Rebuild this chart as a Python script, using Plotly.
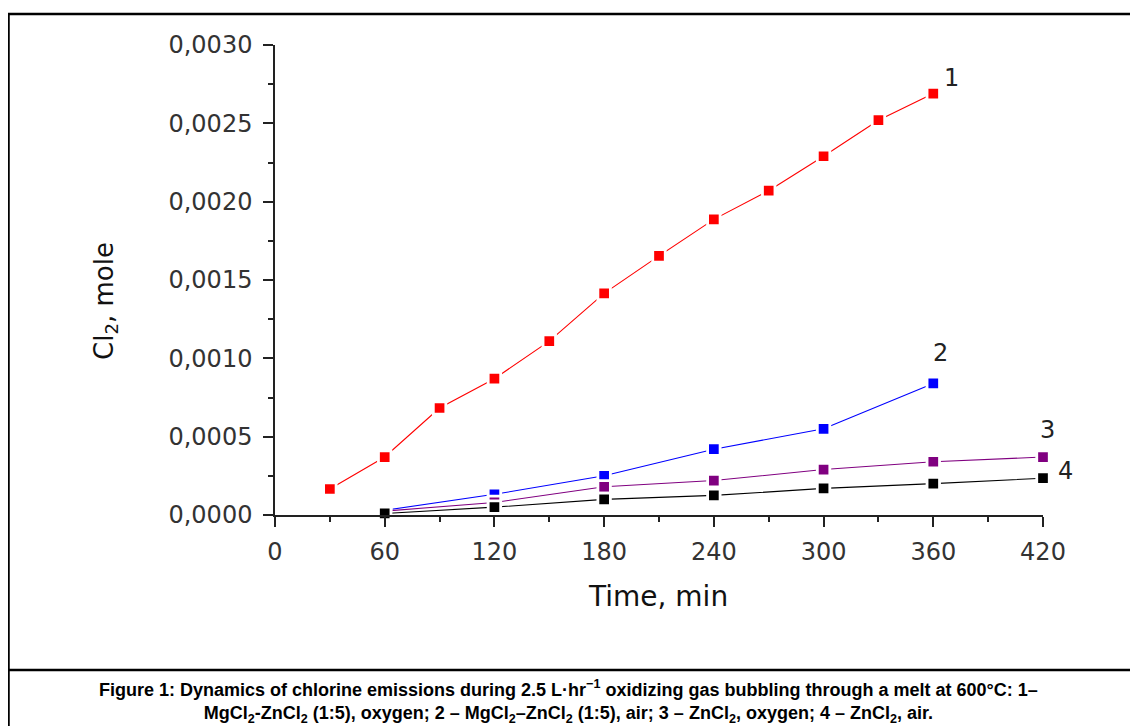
import plotly.graph_objects as go

# ---- data ----
time_1 = [30, 60, 90, 120, 150, 180, 210, 240, 270, 300, 330, 360]
cl2_1 = [0.000166, 0.00037, 0.000683, 0.00087, 0.00111, 0.001415, 0.001654, 0.001887, 0.00207, 0.00229, 0.00252, 0.00269]

time_2 = [60, 120, 180, 240, 300, 360]
cl2_2 = [0.00003, 0.000132, 0.00025, 0.00042, 0.00055, 0.00084]

time_3 = [60, 120, 180, 240, 300, 360, 420]
cl2_3 = [0.000025, 0.00008, 0.00018, 0.00022, 0.00029, 0.00034, 0.00037]

time_4 = [60, 120, 180, 240, 300, 360, 420]
cl2_4 = [0.00001, 0.00005, 0.0001, 0.000125, 0.00017, 0.0002, 0.000235]

series_labels = ["1", "2", "3", "4"]
series_colors = ["#ff0000", "#0000ff", "#800080", "#000000"]

x_ticks = [0, 60, 120, 180, 240, 300, 360, 420]
y_ticks = [0, 0.0005, 0.001, 0.0015, 0.002, 0.0025, 0.003]

caption = ("<b>Figure 1: Dynamics of chlorine emissions during 2.5 L·hr<sup>−1</sup> oxidizing gas bubbling "
           "through a melt at 600°C: 1–<br>MgCl<sub>2</sub>-ZnCl<sub>2</sub> (1:5), oxygen; "
           "2 – MgCl<sub>2</sub>–ZnCl<sub>2</sub> (1:5), air; 3 – ZnCl<sub>2</sub>, oxygen; "
           "4 – ZnCl<sub>2</sub>, air.</b>")

# ---- layout geometry (page pixels; the page body adds an 8px offset) ----
OFF = 8
W, H = 1138 - OFF, 726 - OFF
L, R, T, B = 275, 1043, 45, 515   # plot area in page pixels

def px(x):
    return (x - L) / (R - L)

def py(y):
    return (B - y) / (B - T)

fig = go.Figure()
all_series = [(time_1, cl2_1), (time_2, cl2_2), (time_3, cl2_3), (time_4, cl2_4)]
for (xs, ys), col in zip(all_series, series_colors):
    fig.add_trace(go.Scatter(
        x=xs, y=ys, mode="lines+markers",
        line=dict(color=col, width=1.1),
        marker=dict(symbol="square", size=12.5, color=col, line=dict(color="white", width=2.8)),
        cliponaxis=False, showlegend=False,
    ))

# curve number labels placed next to each series' last point
label_offsets = [(18, 16), (7, 30), (4, 27), (22, 7)]
annotations = []
for (xs, ys), lab, (dx, dy) in zip(all_series, series_labels, label_offsets):
    annotations.append(dict(x=xs[-1], y=ys[-1], xref="x", yref="y", text=lab, showarrow=False,
                            xanchor="center", yanchor="middle", xshift=dx, yshift=dy,
                            font=dict(family="DejaVu Sans", size=24, color="#222")))

annotations.append(dict(x=px(658), y=py(596), xref="paper", yref="paper", text="Time, min",
                        xanchor="center", yanchor="middle", showarrow=False,
                        font=dict(family="DejaVu Sans", size=28, color="#111")))
annotations.append(dict(x=px(105), y=py(301), xref="paper", yref="paper", text="Cl<sub>2</sub>, mole",
                        textangle=-90, xanchor="center", yanchor="middle", showarrow=False,
                        font=dict(family="DejaVu Sans", size=26, color="#111")))
annotations.append(dict(x=px(568), y=py(701), xref="paper", yref="paper", text=caption,
                        xanchor="center", yanchor="middle", showarrow=False, align="center",
                        font=dict(family="Liberation Sans, Arial", size=18, color="#000")))

shapes = [
    dict(type="rect", xref="paper", yref="paper", x0=px(8.5), x1=px(1160), y0=py(760), y1=py(14),
         line=dict(color="black", width=2.5), fillcolor="rgba(0,0,0,0)", layer="below"),
    dict(type="line", xref="paper", yref="paper", x0=px(8.5), x1=px(1160), y0=py(670), y1=py(670),
         line=dict(color="black", width=2.5)),
]

axis_font = dict(family="DejaVu Sans", size=24, color="#333")
fig.update_layout(
    width=W, height=H,
    margin=dict(l=L - OFF, r=W - (R - OFF), t=T - OFF, b=H - (B - OFF), pad=0),
    paper_bgcolor="white", plot_bgcolor="white",
    separators=", ",
    xaxis=dict(range=[0, 420], tickvals=x_ticks, ticks="outside", ticklen=10, tickwidth=1.5,
               tickcolor="#222", showline=True, linecolor="#222", linewidth=1.5,
               showgrid=False, zeroline=False, tickfont=axis_font, ticklabelstandoff=4,
               minor=dict(dtick=30, ticks="outside", ticklen=5, tickwidth=1.5, tickcolor="#222", showgrid=False)),
    yaxis=dict(range=[0, 0.003], tickvals=y_ticks, tickformat=".4f", ticks="outside", ticklen=10,
               tickwidth=1.5, tickcolor="#222", showline=True, linecolor="#222", linewidth=1.5,
               showgrid=False, zeroline=False, tickfont=axis_font, ticklabelstandoff=6,
               minor=dict(dtick=0.00025, ticks="outside", ticklen=5, tickwidth=1.5, tickcolor="#222", showgrid=False)),
    annotations=annotations,
    shapes=shapes,
)

fig.write_html("out.html")
